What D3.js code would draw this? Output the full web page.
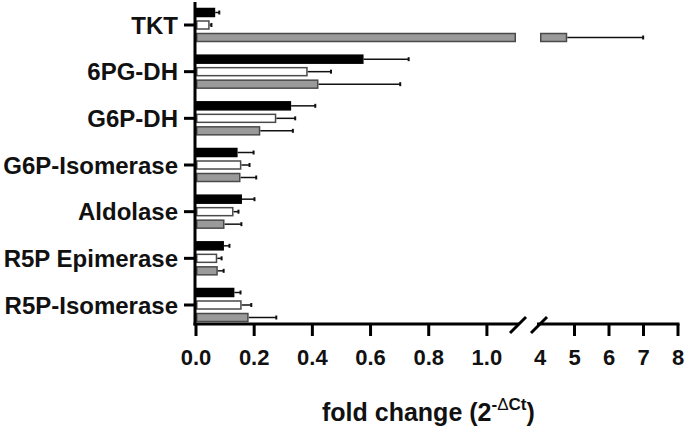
<!DOCTYPE html>
<html><head><meta charset="utf-8">
<script src="https://cdn.jsdelivr.net/npm/d3@7"></script>
<style>body{margin:0;background:#fff}svg{display:block}text{font-family:"Liberation Sans",Arial,sans-serif;font-weight:bold;fill:#111}</style>
</head><body><svg id="c" width="685" height="432"></svg>
<script>
const categories = ["TKT","6PG-DH","G6P-DH","G6P-Isomerase","Aldolase","R5P Epimerase","R5P-Isomerase"];
const seriesNames = ["s1","s2","s3"];
const blackVals = [0.066,0.576,0.327,0.143,0.158,0.096,0.132];
const blackErr  = [0.014,0.155,0.083,0.055,0.043,0.019,0.021];
const whiteVals = [0.047,0.384,0.276,0.156,0.129,0.073,0.157];
const whiteErr  = [0.006,0.080,0.065,0.028,0.017,0.015,0.033];
const greyVals  = [4.79,0.421,0.221,0.153,0.098,0.075,0.181];
const greyErr   = [2.20,0.281,0.112,0.054,0.058,0.020,0.095];
const leftTicks = [0,0.2,0.4,0.6,0.8,1.0];
const rightTicks = [4,5,6,7,8];
const breakLow = 1.1, breakHigh = 4;

const fills = ["#000000","#ffffff","#9a9a9a"];
const strokes = ["#000000","#4a4a4a","#4a4a4a"];
const vals = [blackVals, whiteVals, greyVals];
const errs = [blackErr, whiteErr, greyErr];

const svg = d3.select("#c");
const xL = d3.scaleLinear().domain([0, breakLow]).range([196, 516]);
const xR = d3.scaleLinear().domain([breakHigh, 8]).range([540, 678]);
const X = v => v <= breakLow ? xL(v) : (v >= breakHigh ? xR(v) : xL(breakLow));
const y = d3.scalePoint().domain(categories).range([25, 305]);
const yi = d3.scaleBand().domain(seriesNames).range([-18.75, 18.75]).paddingInner(0.24).paddingOuter(0.12);

const axisY = 324;
const g = svg.append("g");

// bars
seriesNames.forEach((s, si) => {
  categories.forEach((c, ci) => {
    const v = vals[si][ci], e = errs[si][ci];
    const y0 = y(c) + yi(s), h = yi.bandwidth();
    const segs = v > breakLow ? [[0, breakLow], [breakHigh, v]] : [[0, v]];
    const end = X(v), eEnd = X(v + e);
    g.append("line").attr("x1", end).attr("x2", eEnd).attr("y1", y0 + h/2).attr("y2", y0 + h/2)
      .attr("stroke", "#111").attr("stroke-width", 1.5);
    g.append("line").attr("x1", eEnd).attr("x2", eEnd).attr("y1", y0 + h/2 - 2).attr("y2", y0 + h/2 + 2)
      .attr("stroke", "#111").attr("stroke-width", 2);
    segs.forEach(([a, b]) => {
      g.append("rect").attr("x", X(a) + 0.75).attr("y", y0 + 0.75)
        .attr("width", Math.max(0, X(b) - X(a) - 1.5)).attr("height", h - 1.5)
        .attr("fill", fills[si]).attr("stroke", strokes[si]).attr("stroke-width", 1.5);
    });
  });
});

// y axis
g.append("line").attr("x1", 195).attr("x2", 195).attr("y1", 2).attr("y2", axisY + 1.5)
  .attr("stroke", "#000").attr("stroke-width", 3);
categories.forEach(c => {
  g.append("line").attr("x1", 184).attr("x2", 195).attr("y1", y(c)).attr("y2", y(c))
    .attr("stroke", "#000").attr("stroke-width", 3);
  g.append("text").attr("x", 178).attr("y", y(c)).attr("dy", "0.36em").attr("text-anchor", "end")
    .attr("font-size", 24).text(c);
});

// x axis segments
g.append("line").attr("x1", 193.5).attr("x2", 519).attr("y1", axisY).attr("y2", axisY)
  .attr("stroke", "#000").attr("stroke-width", 3);
g.append("line").attr("x1", 537).attr("x2", 679.5).attr("y1", axisY).attr("y2", axisY)
  .attr("stroke", "#000").attr("stroke-width", 3);
leftTicks.forEach(t => {
  g.append("line").attr("x1", xL(t)).attr("x2", xL(t)).attr("y1", axisY).attr("y2", axisY + 12)
    .attr("stroke", "#000").attr("stroke-width", 3);
  g.append("text").attr("x", xL(t)).attr("y", 365).attr("text-anchor", "middle")
    .attr("font-size", 22).text(d3.format(".1f")(t));
});
rightTicks.forEach(t => {
  if (t > breakHigh) g.append("line").attr("x1", xR(t)).attr("x2", xR(t)).attr("y1", axisY).attr("y2", axisY + 12)
    .attr("stroke", "#000").attr("stroke-width", 3);
  g.append("text").attr("x", xR(t)).attr("y", 365).attr("text-anchor", "middle")
    .attr("font-size", 22).text(String(t));
});
// break marks
[518, 539].forEach(cx => {
  g.append("line").attr("x1", cx - 8).attr("y1", axisY + 9).attr("x2", cx + 8).attr("y2", axisY - 7)
    .attr("stroke", "#000").attr("stroke-width", 3);
});

// x title
const t = g.append("text").attr("x", 322).attr("y", 421).attr("font-size", 25);
t.append("tspan").text("fold change (2");
t.append("tspan").attr("dy", -11).attr("font-size", 17).text("-");
t.append("tspan").attr("font-size", 17).attr("font-weight", "normal").text("\u0394");
t.append("tspan").attr("font-size", 17).text("Ct");
t.append("tspan").attr("dy", 11).text(")");
</script></body></html>
